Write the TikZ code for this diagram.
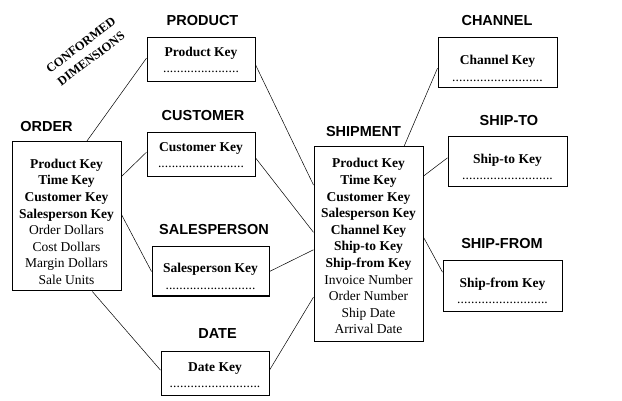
\documentclass[tikz,border=0pt]{standalone}
\usepackage{fontspec}
\setmainfont{Liberation Serif}
\setsansfont{Liberation Sans}
\newcommand{\keydots}[1]{\makebox[#1]{\mdseries\xleaders\hbox{.}\hfill}}
\newcommand{\topgap}[1]{\rule{0pt}{#1}}

\begin{document}
\begin{tikzpicture}[x=1pt,y=-1pt]
    % Stili
    \tikzstyle{title}=[font=\sffamily\bfseries\fontsize{14.5}{17}\selectfont]
    \tikzstyle{fact}=[draw, line width=1pt, minimum width=109pt, align=center, inner sep=0pt, font=\fontsize{13.5}{16.6}\selectfont]
    \tikzstyle{dimension}=[draw, line width=1pt, minimum width=108pt, minimum height=44pt, align=center, inner sep=0pt, font=\bfseries\fontsize{13.5}{16.5}\selectfont]
    \tikzstyle{link}=[line width=0.5pt]

    \path[fill=white, use as bounding box] (0,0) rectangle (622,401);

    % Etichette
    \node[title] (order_label) at (46.5,127) {ORDER};
    \node[title] (product_label) at (202.5,20.5) {PRODUCT};
    \node[title] (customer_label) at (203,115.5) {CUSTOMER};
    \node[title] (salesperson_label) at (214,230) {SALESPERSON};
    \node[title] (date_label) at (217.5,333.5) {DATE};
    \node[title] (shipment_label) at (363.5,131.5) {SHIPMENT};
    \node[title] (channel_label) at (497,20.5) {CHANNEL};
    \node[title] (shipto_label) at (509,120.5) {SHIP-TO};
    \node[title] (shipfrom_label) at (502,243.5) {SHIP-FROM};
    \node[rotate=37, align=center, font=\bfseries\fontsize{12.5}{17}\selectfont] (conformed) at (86,52) {CONFORMED\\DIMENSIONS};

    % Tabelle dei fatti
    \node[fact, minimum height=149pt] (order) at (66.5,216.5) {\topgap{20pt}\textbf{Product Key}\\\textbf{Time Key}\\\textbf{Customer Key}\\\textbf{Salesperson Key}\\Order Dollars\\Cost Dollars\\Margin Dollars\\Sale Units};
    \node[fact, minimum height=194pt] (shipment) at (368.5,244) {\topgap{14pt}\textbf{Product Key}\\\textbf{Time Key}\\\textbf{Customer Key}\\\textbf{Salesperson Key}\\\textbf{Channel Key}\\\textbf{Ship-to Key}\\\textbf{Ship-from Key}\\Invoice Number\\Order Number\\Ship Date\\Arrival Date};

    % Dimensioni
    \node[dimension] (product) at (201,60) {Product Key\\\keydots{76pt}};
    \node[dimension] (customer) at (201,155) {Customer Key\\\keydots{86pt}};
    \node[dimension, minimum width=117pt, minimum height=49pt] (salesperson) at (210.5,271.5) {\topgap{19pt}Salesperson Key\\\keydots{90pt}};
    \node[dimension] (date) at (215,373) {\topgap{13pt}Date Key\\\keydots{91pt}};
    \node[dimension, minimum width=119pt, minimum height=50pt] (channel) at (497.5,63) {\topgap{20pt}Channel Key\\\keydots{91pt}};
    \node[dimension, minimum width=119pt, minimum height=50pt] (shipto) at (507.5,162) {\topgap{19pt}Ship-to Key\\\keydots{91pt}};
    \node[dimension, minimum width=119pt, minimum height=50pt] (shipfrom) at (502.5,286) {\topgap{19pt}Ship-from Key\\\keydots{91pt}};

    % Collegamenti
    \draw[link] (order.75) -- (product.178);
    \draw[link] (order.36) -- (customer.177);
    \draw[link] (order.2) -- (salesperson.180);
    \draw[link] (order.-71) -- (date.177);
    \draw[link] (product.-5) -- (shipment.133);
    \draw[link] (customer.-3) -- (shipment.168);
    \draw[link] (salesperson.0) -- (shipment.186);
    \draw[link] (date.3) -- (shipment.224);
    \draw[link] (shipment.70) -- (channel.185);
    \draw[link] (shipment.51) -- (shipto.176);
    \draw[link] (shipment.7) -- (shipfrom.167);
\end{tikzpicture}
\end{document}
